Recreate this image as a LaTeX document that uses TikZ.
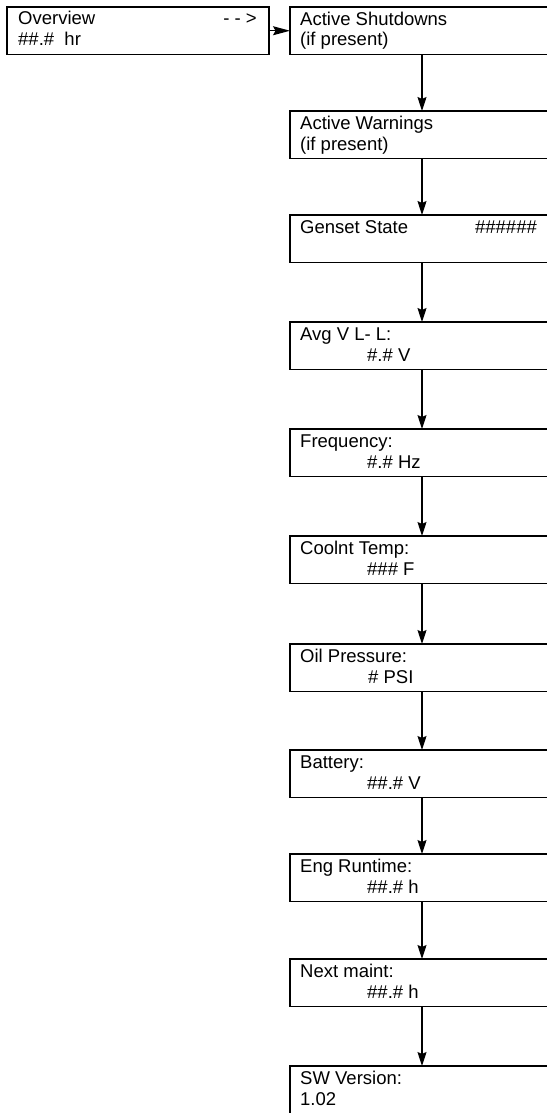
\documentclass[tikz,border=0pt]{standalone}
\usepackage{fontspec}
\setmainfont{Liberation Sans}
\usetikzlibrary{arrows.meta}
\begin{document}
\begin{tikzpicture}[x=1pt,y=-1pt,
  box/.style={draw=black,line width=1.2pt,minimum width=264pt,minimum height=47.5pt,anchor=north west,inner sep=0pt,outer sep=0pt},
  obox/.style={draw=black,line width=1.2pt,minimum width=262pt,minimum height=47.5pt,anchor=north west,inner sep=0pt,outer sep=0pt},
  lbl/.style={anchor=base west,inner sep=0pt,font=\fontsize{18.5}{21}\selectfont},
  lble/.style={anchor=base east,inner sep=0pt,font=\fontsize{18.5}{21}\selectfont},
  lblc/.style={anchor=base,inner sep=0pt,font=\fontsize{18.5}{21}\selectfont},
  arr/.style={line width=1.2pt,-{Stealth[length=14pt,width=9pt,inset=2pt]}},
  harr/.style={line width=1.2pt,-{Stealth[length=17pt,width=9pt,inset=2.5pt]}}]
\useasboundingbox (0,0) rectangle (546,1113);
\coordinate (ax) at (422,0);
% overview
\node[obox] (over) at (7,7) {};
\node[lbl] (overa) at (18,25) {Overview};
\node[lble] (overb) at (257,25) {- - >};
\node[lbl] (overc) at (18,46) {\#\#.\#\ \ hr};
% right column boxes
\node[box] (b1) at (290,7) {};
\node[lbl] (b1a) at (300,25.5) {Active Shutdowns};
\node[lbl] (b1b) at (300,46) {(if present)};
\node[box] (b2) at (290,111) {};
\node[lbl] (b2a) at (300,129.5) {Active Warnings};
\node[lbl] (b2b) at (300,150) {(if present)};
\node[box] (b3) at (290,215) {};
\node[lbl] (b3a) at (300,233) {Genset State};
\node[lblc] (b3b) at (506,233) {\#\#\#\#\#\#};
\node[box] (b4) at (290,322) {};
\node[lbl] (b4a) at (300,340.5) {Avg V L- L:};
\node[lbl] (b4b) at (367,361) {\#.\# V};
\node[box] (b5) at (290,429) {};
\node[lbl] (b5a) at (300,447.5) {Frequency:};
\node[lbl] (b5b) at (367,468) {\#.\# Hz};
\node[box] (b6) at (290,536) {};
\node[lbl] (b6a) at (300,554.5) {Coolnt Temp:};
\node[lbl] (b6b) at (367,575) {\#\#\# F};
\node[box] (b7) at (290,644) {};
\node[lbl] (b7a) at (300,662.5) {Oil Pressure:};
\node[lbl] (b7b) at (368,683) {\# PSI};
\node[box] (b8) at (290,750) {};
\node[lbl] (b8a) at (300,768.5) {Battery:};
\node[lbl] (b8b) at (367,789) {\#\#.\# V};
\node[box] (b9) at (290,854) {};
\node[lbl] (b9a) at (300,872.5) {Eng Runtime:};
\node[lbl] (b9b) at (367,893) {\#\#.\# h};
\node[box] (b10) at (290,959) {};
\node[lbl] (b10a) at (300,977.5) {Next maint:};
\node[lbl] (b10b) at (367,998) {\#\#.\# h};
\node[box] (b11) at (290,1066) {};
\node[lbl] (b11a) at (300,1084.5) {SW Version:};
\node[lbl] (b11b) at (300,1105) {1.02};
% connectors
\draw[harr] (over.east) -- (over.east -| b1.west);
\foreach \a/\b in {b1/b2,b2/b3,b3/b4,b4/b5,b5/b6,b6/b7,b7/b8,b8/b9,b9/b10,b10/b11}
  \draw[arr] (\a.south -| ax) -- (\b.north -| ax);
\end{tikzpicture}
\end{document}
